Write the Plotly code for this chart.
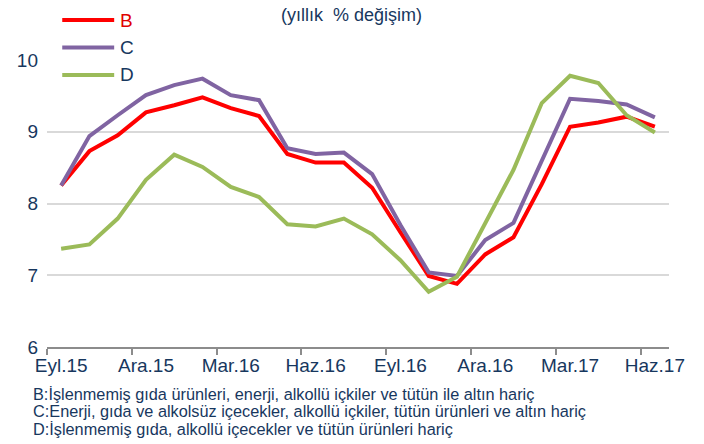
import plotly.graph_objects as go

months = ["Eyl.15", "Eki.15", "Kas.15", "Ara.15", "Oca.16", "Şub.16", "Mar.16", "Nis.16",
          "May.16", "Haz.16", "Tem.16", "Ağu.16", "Eyl.16", "Eki.16", "Kas.16", "Ara.16",
          "Oca.17", "Şub.17", "Mar.17", "Nis.17", "May.17", "Haz.17"]
B = [8.25, 8.73, 8.95, 9.27, 9.37, 9.48, 9.33, 9.22, 8.69, 8.57, 8.57, 8.22, 7.60, 6.99, 6.88,
     7.29, 7.53, 8.27, 9.07, 9.13, 9.21, 9.07]
C = [8.25, 8.94, 9.23, 9.51, 9.65, 9.74, 9.51, 9.44, 8.77, 8.69, 8.71, 8.41, 7.70, 7.04, 6.99,
     7.49, 7.73, 8.59, 9.46, 9.43, 9.38, 9.20]
D = [7.37, 7.43, 7.79, 8.33, 8.68, 8.51, 8.23, 8.09, 7.71, 7.68, 7.79, 7.57, 7.21, 6.77, 6.98,
     7.72, 8.47, 9.40, 9.78, 9.68, 9.23, 8.99]
tick_labels = ["Eyl.15", "Ara.15", "Mar.16", "Haz.16", "Eyl.16", "Ara.16", "Mar.17", "Haz.17"]
y_ticks = [6, 7, 8, 9, 10]
notes = [
    "B:İşlenmemiş gıda ürünleri, enerji, alkollü içkiler ve tütün ile altın hariç",
    "C:Enerji, gıda ve alkolsüz içecekler, alkollü içkiler, tütün ürünleri ve altın hariç",
    "D:İşlenmemiş gıda, alkollü içecekler ve tütün ürünleri hariç",
]
title_text = "(yıllık \u00a0% değişim)"

NAVY = "#17375E"
FONT = "Liberation Sans Narrow, Liberation Sans, Arial, sans-serif"
FONT_REG = "Liberation Sans, Arial, sans-serif"

x = list(range(len(months)))
tickvals = [months.index(t) for t in tick_labels]

series = [("B", B, "#FF0000", "#E00000"),
          ("C", C, "#8064A2", NAVY),
          ("D", D, "#9BBB59", NAVY)]

fig = go.Figure()
for key, vals, col, txtcol in series:
    fig.add_trace(go.Scatter(x=x, y=vals, mode="lines", name=key,
                             line=dict(color=col, width=4), hoverinfo="skip",
                             showlegend=False))

# custom legend (sample line + label), stacked at top-left
shapes = []
annotations = []
leg_y0 = 1.139   # paper y of first entry
leg_dy = 0.0955  # spacing between entries
for i, (key, vals, col, txtcol) in enumerate(series):
    yy = leg_y0 - i * leg_dy
    shapes.append(dict(type="line", xref="paper", yref="paper",
                       x0=0.0245, x1=0.108, y0=yy, y1=yy,
                       line=dict(color=col, width=4)))
    annotations.append(dict(text=key, xref="paper", yref="paper", x=0.114, y=yy,
                            xanchor="left", yanchor="middle", showarrow=False,
                            font=dict(size=19, color=txtcol, family=FONT_REG)))

annotations.append(dict(text=title_text, xref="paper", yref="paper", x=0.49, y=1.157,
                        xanchor="center", yanchor="middle", showarrow=False,
                        font=dict(size=18, color=NAVY, family=FONT)))
for i, n in enumerate(notes):
    annotations.append(dict(text=n, xref="paper", yref="paper", x=-0.026, y=-0.163 - i * 0.0605,
                            xanchor="left", yanchor="middle", showarrow=False,
                            font=dict(size=16.3, color=NAVY, family=FONT)))

fig.update_layout(
    width=704, height=444,
    margin=dict(l=47, r=35, t=60, b=97, autoexpand=False),
    paper_bgcolor="white", plot_bgcolor="white",
    font=dict(family=FONT, color=NAVY, size=18),
    showlegend=False,
    shapes=shapes,
    annotations=annotations,
)

fig.update_xaxes(
    range=[-0.5, len(months) - 0.5],
    tickmode="array", tickvals=tickvals, ticktext=tick_labels,
    ticks="", showgrid=False, zeroline=False,
    showline=True, linecolor="#8C8C8C", linewidth=2,
    tickfont=dict(size=19, color=NAVY, family=FONT),
    minor=dict(tickmode="array", tickvals=[v - 0.5 for v in tickvals],
               ticks="outside", ticklen=6, tickwidth=2, tickcolor="#8C8C8C", showgrid=False),
    fixedrange=True,
)
fig.update_yaxes(
    range=[6, 10], tickmode="array", tickvals=y_ticks,
    showgrid=True, gridcolor="#D9D9D9", gridwidth=2,
    zeroline=False, showline=False, ticks="",
    tickfont=dict(size=19, color=NAVY, family=FONT),
    ticklabelstandoff=8,
    fixedrange=True,
)

fig.write_html("out.html", config={"displayModeBar": False},
               post_script="document.body.style.margin='0';")
